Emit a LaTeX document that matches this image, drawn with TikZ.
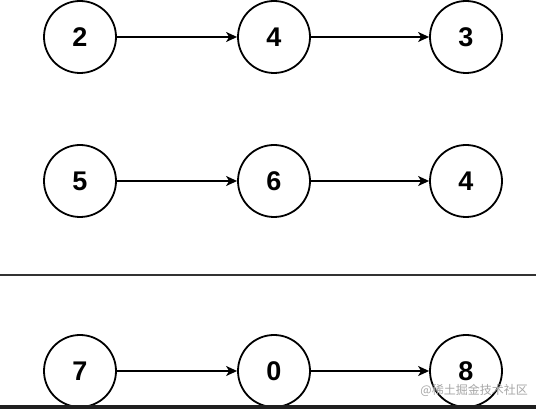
\documentclass[tikz,border=0pt]{standalone}
\usepackage{fontspec}
\setmainfont{Liberation Sans}
\newfontfamily\cjk{Noto Sans CJK SC}
\usetikzlibrary{arrows.meta}
\begin{document}
\begin{tikzpicture}[x=1pt,y=1pt,
  numnode/.style={circle,draw=black,line width=1.8pt,minimum size=72pt,inner sep=0pt,
    font=\fontsize{27}{27}\selectfont\bfseries,fill=white},
  link/.style={draw=black,line width=1.4pt,-{Stealth[length=11pt,width=10pt,inset=3pt]}}]
\useasboundingbox (0,0) rectangle (536,409);
\fill[white] (0,0) rectangle (536,409);
% row 1
\node[numnode] (a1) at (80,372) {2};
\node[numnode] (a2) at (274,372) {4};
\node[numnode] (a3) at (466,372) {3};
% row 2
\node[numnode] (b1) at (80,228) {5};
\node[numnode] (b2) at (274,228) {6};
\node[numnode] (b3) at (466,228) {4};
% row 3
\node[numnode] (c1) at (80,38) {7};
\node[numnode] (c2) at (274,38) {0};
\node[numnode] (c3) at (466,38) {8};
\draw[link] (a1) -- (a2);
\draw[link] (a2) -- (a3);
\draw[link] (b1) -- (b2);
\draw[link] (b2) -- (b3);
\draw[link] (c1) -- (c2);
\draw[link] (c2) -- (c3);
% separator
\draw[line width=2.2pt,draw=black!80] (0,134) -- (536,134);
% bottom bar
\fill[black!88] (0,0) rectangle (536,4);
% watermark
\node[anchor=east,text=black!35,inner sep=0pt,font=\cjk\fontsize{12}{12}\selectfont] (wm) at (528,19) {@稀土掘金技术社区};
\end{tikzpicture}
\end{document}
